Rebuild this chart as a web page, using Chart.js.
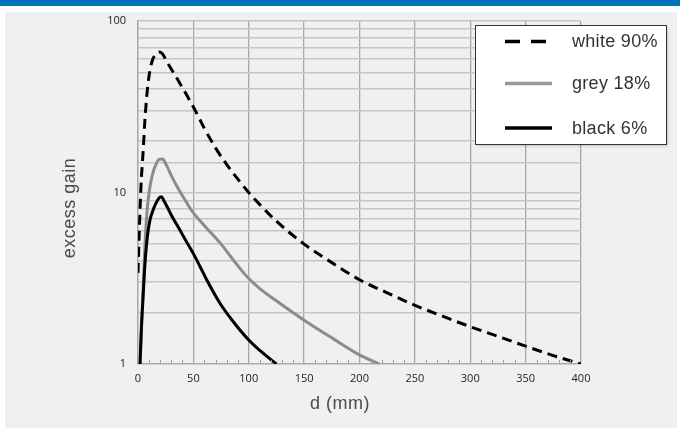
<!DOCTYPE html>
<html>
<head>
<meta charset="utf-8">
<script src="https://cdn.jsdelivr.net/npm/chart.js@4.4.0/dist/chart.umd.min.js"></script>
<style>
  html, body { margin: 0; padding: 0; background: #ffffff; }
  #wrap { width: 680px; height: 428px; position: relative; }
</style>
</head>
<body>
<div id="wrap"><canvas id="c" width="680" height="428"></canvas></div>
<script>
// ---- data ----
const seriesNames = ['white 90%', 'grey 18%', 'black 6%'];

const whiteD = [0, 1, 2, 3, 4, 5, 6, 8, 10, 13, 16, 19, 22, 26, 30, 35, 40, 45, 50, 55, 60, 70, 80, 90, 100, 110, 125, 150, 175, 200, 225, 250, 275, 300, 325, 350, 375, 400];
const whiteV = [3.4, 5.5, 8.5, 12, 15, 19, 25, 37, 48, 59, 64, 66, 64.5, 58, 52.5, 46.5, 41, 36, 31.5, 27.3, 23.6, 18.2, 14.6, 12, 10, 8.5, 6.8, 5.0, 3.9, 3.1, 2.6, 2.2, 1.9, 1.65, 1.45, 1.27, 1.12, 1.0];

const greyD = [2, 4, 6, 8, 10, 13, 16, 19, 22, 26, 30, 35, 40, 45, 50, 60, 75, 90, 100, 110, 128, 150, 175, 200, 218];
const greyV = [1, 2.2, 4.5, 7.5, 10, 12.7, 14.5, 15.6, 15.7, 14.3, 12.6, 10.9, 9.6, 8.5, 7.6, 6.4, 5.0, 3.75, 3.15, 2.75, 2.26, 1.8, 1.42, 1.13, 1.0];

const blackD = [1.8, 3, 4.5, 6, 7.5, 9, 11, 13, 16, 19, 21, 24, 27, 30, 35, 40, 45, 50, 56, 62, 74, 85, 100, 110, 125];
const blackV = [1, 1.6, 2.4, 3.6, 4.8, 5.9, 7.0, 7.7, 8.6, 9.3, 9.45, 8.8, 8.1, 7.4, 6.5, 5.7, 5.0, 4.4, 3.7, 3.1, 2.26, 1.8, 1.38, 1.2, 1.0];

const xTickLabels = [0, 50, 100, 150, 200, 250, 300, 350, 400];
const yTickLabels = [1, 10, 100];
const xTitle = 'd (mm)';
const yTitle = 'excess gain';

// ---- build chart ----
function pts(d, v) { return d.map((x, i) => ({ x: x, y: v[i] })); }

const styles = [
  { color: '#000000', width: 3, dash: [10, 6], legendDash: [15, 11] },
  { color: '#8c8c8c', width: 3, dash: [], legendDash: [] },
  { color: '#000000', width: 3, dash: [], legendDash: [] }
];

const panelPlugin = {
  id: 'panel',
  beforeDraw(chart) {
    const ctx = chart.ctx;
    ctx.save();
    ctx.fillStyle = '#ffffff';
    ctx.fillRect(0, 0, 680, 428);
    ctx.fillStyle = '#0072bc';
    ctx.fillRect(0, 0, 680, 6);
    ctx.fillStyle = '#eff0f2';
    ctx.fillRect(5, 12, 672, 416);
    ctx.restore();
  },
  afterDraw(chart) {
    const ctx = chart.ctx;
    const xs = chart.scales.x;
    const ca = chart.chartArea;
    ctx.save();
    // minor x ticks every 10
    ctx.strokeStyle = '#a0a0a0';
    ctx.lineWidth = 1;
    for (let v = 10; v < 400; v += 10) {
      if (v % 50 === 0) continue;
      const px = Math.round(xs.getPixelForValue(v)) + 0.5;
      ctx.beginPath();
      ctx.moveTo(px, ca.bottom);
      ctx.lineTo(px, ca.bottom - 4);
      ctx.stroke();
    }
    // axis titles
    ctx.fillStyle = '#4a4a4a';
    ctx.textAlign = 'center';
    ctx.textBaseline = 'middle';
    ctx.font = '18px "Liberation Sans", Arial, sans-serif';
    if ('letterSpacing' in ctx) ctx.letterSpacing = '0.5px';
    ctx.fillText(xTitle, 340, 404);
    ctx.translate(70, 208);
    ctx.rotate(-Math.PI / 2);
    ctx.font = '18px "Liberation Sans", Arial, sans-serif';
    ctx.fillText(yTitle, 0, 0);
    ctx.restore();

    // legend
    ctx.save();
    const bx = 475.5, by = 25.5, bw = 191, bh = 119;
    ctx.shadowColor = 'rgba(0,0,0,0.25)';
    ctx.shadowBlur = 3;
    ctx.shadowOffsetX = 1;
    ctx.shadowOffsetY = 1;
    ctx.fillStyle = '#ffffff';
    ctx.fillRect(bx, by, bw, bh);
    ctx.shadowColor = 'transparent';
    ctx.strokeStyle = '#333333';
    ctx.lineWidth = 1;
    ctx.strokeRect(bx, by, bw, bh);
    const rowsY = [41.5, 83.5, 128];
    ctx.font = '18px "Liberation Sans", Arial, sans-serif';
    if ('letterSpacing' in ctx) ctx.letterSpacing = '0.3px';
    ctx.textAlign = 'left';
    ctx.textBaseline = 'middle';
    seriesNames.forEach((name, i) => {
      const st = styles[i];
      ctx.strokeStyle = i === 1 ? '#999999' : st.color;
      ctx.lineWidth = 3.5;
      ctx.setLineDash(st.legendDash);
      ctx.lineCap = 'butt';
      ctx.beginPath();
      ctx.moveTo(505, rowsY[i]);
      ctx.lineTo(552, rowsY[i]);
      ctx.stroke();
      ctx.setLineDash([]);
      ctx.fillStyle = '#333333';
      ctx.fillText(name, 572, rowsY[i] + 1);
    });
    ctx.restore();
  }
};

const dataSeries = [pts(whiteD, whiteV), pts(greyD, greyV), pts(blackD, blackV)];

new Chart(document.getElementById('c'), {
  type: 'line',
  data: {
    datasets: dataSeries.map((d, i) => ({
      label: seriesNames[i],
      data: d,
      borderColor: styles[i].color,
      borderWidth: styles[i].width,
      borderDash: styles[i].dash,
      pointRadius: 0,
      fill: false,
      cubicInterpolationMode: 'monotone',
      order: 3 - i
    }))
  },
  options: {
    responsive: false,
    animation: false,
    devicePixelRatio: 1,
    layout: { padding: { left: 0, top: 21, right: 99, bottom: 0 } },
    plugins: { legend: { display: false }, tooltip: { enabled: false } },
    scales: {
      x: {
        type: 'linear',
        min: 0, max: 400,
        afterFit(s) { s.height = 64; },
        afterBuildTicks(s) { s.ticks = xTickLabels.map(v => ({ value: v })); },
        ticks: {
          color: '#222222',
          font: { family: '"Open Sans", sans-serif', size: 11 },
          padding: 8,
          maxRotation: 0
        },
        grid: { color: '#a8a8a8', lineWidth: 1.3, drawTicks: false },
        border: { color: '#a8a8a8', width: 1.3 }
      },
      y: {
        type: 'logarithmic',
        min: 1, max: 100,
        afterFit(s) { s.width = 138; },
        ticks: {
          autoSkip: false,
          color: '#222222',
          font: { family: '"Open Sans", sans-serif', size: 11 },
          padding: 12,
          callback: (v) => yTickLabels.includes(v) ? String(v) : ''
        },
        grid: { color: '#c6c6c6', lineWidth: 1.5, drawTicks: false },
        border: { color: '#a8a8a8', width: 1.3 }
      }
    }
  },
  plugins: [panelPlugin]
});
</script>
</body>
</html>
